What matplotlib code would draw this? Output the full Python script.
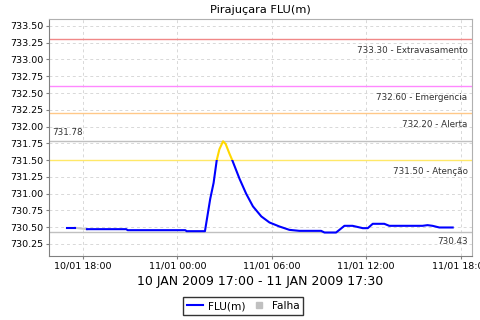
import matplotlib
matplotlib.use("Agg")
import matplotlib.pyplot as plt
import matplotlib.dates as mdates
from matplotlib.patches import Rectangle
from matplotlib.lines import Line2D
import numpy as np
import pandas as pd

# ---- data ----
times = ["2009-01-10 17:00", "2009-01-10 17:30",
         "2009-01-10 18:15", "2009-01-10 20:45", "2009-01-10 20:50", "2009-01-11 00:30",
         "2009-01-11 00:35", "2009-01-11 01:45", "2009-01-11 01:50", "2009-01-11 02:05",
         "2009-01-11 02:18", "2009-01-11 02:30", "2009-01-11 02:40", "2009-01-11 02:54",
         "2009-01-11 03:04", "2009-01-11 03:18", "2009-01-11 03:29", "2009-01-11 03:44",
         "2009-01-11 03:57", "2009-01-11 04:22", "2009-01-11 04:48", "2009-01-11 05:20",
         "2009-01-11 05:51", "2009-01-11 06:29", "2009-01-11 07:07", "2009-01-11 07:45",
         "2009-01-11 09:08", "2009-01-11 09:21", "2009-01-11 10:05", "2009-01-11 10:18",
         "2009-01-11 10:37", "2009-01-11 11:08", "2009-01-11 11:47", "2009-01-11 12:06",
         "2009-01-11 12:25", "2009-01-11 13:09", "2009-01-11 13:28", "2009-01-11 15:35",
         "2009-01-11 15:54", "2009-01-11 16:13", "2009-01-11 16:39", "2009-01-11 17:30"]
flu = [730.49, 730.49,
       730.47, 730.47, 730.455, 730.455,
       730.44, 730.44, 730.56, 730.92,
       731.16, 731.50, 731.66, 731.78,
       731.74, 731.60, 731.50, 731.35,
       731.22, 731.00, 730.81, 730.66,
       730.57, 730.51, 730.46, 730.445,
       730.445, 730.42, 730.42, 730.46,
       730.52, 730.52, 730.485, 730.485,
       730.55, 730.55, 730.52, 730.52,
       730.53, 730.52, 730.495, 730.495]
gap_times = ["2009-01-10 17:30", "2009-01-10 18:15"]   # "Falha" stretch
gap_vals = [730.49, 730.47]

levels = [733.30, 732.60, 732.20, 731.50]
level_names = ["Extravasamento", "Emergencia", "Alerta", "Atenção"]
level_colors = ["#f08888", "#ff88ff", "#ffc888", "#ffe868"]
vmax, vmin = 731.78, 730.43

t = pd.to_datetime(times)
tg = pd.to_datetime(gap_times)
first = 2  # blue series resumes after the failure

plt.rcParams["font.family"] = "DejaVu Sans"
fig = plt.figure(figsize=(4.8, 3.2), dpi=100)
ax = fig.add_axes([0.102, 0.2, 0.881, 0.741])

for v, c in zip(levels, level_colors):
    ax.axhline(v, color=c, lw=1, zorder=2)
for v in (vmax, vmin):
    ax.axhline(v, color="#c0c0c0", lw=1, zorder=2)

ax.plot(tg, gap_vals, color="#c8c8c8", lw=1.5, zorder=3)
# blue below the "Atenção" level, yellow above it
blue1, = ax.plot(t[:first], flu[:first], color="#0000ff", lw=1.5, zorder=4)
blue2, = ax.plot(t[first:], flu[first:], color="#0000ff", lw=1.5, zorder=4)
yel, = ax.plot(t[first:], flu[first:], color="#ffd800", lw=1.5, zorder=4)

xlo = pd.Timestamp("2009-01-10 15:50")
xhi = pd.Timestamp("2009-01-11 18:43")
ax.set_xlim(xlo, xhi)
ax.set_ylim(730.07, 733.605)

x0, x1 = mdates.date2num(xlo), mdates.date2num(xhi)
lo = Rectangle((x0, 700), x1 - x0, levels[3] - 700, transform=ax.transData)
hi = Rectangle((x0, levels[3]), x1 - x0, 10, transform=ax.transData)
blue2.set_clip_path(lo)
yel.set_clip_path(hi)

xr = 0.99
for v, n in zip(levels, level_names):
    ax.annotate(f"{v:.2f} - {n}", (xr, v), xycoords=("axes fraction", "data"),
                xytext=(0, -8), textcoords="offset points", ha="right", va="center",
                fontsize=6.3, color="#333333")
ax.annotate(f"{vmax:.2f}", (0.008, vmax), xycoords=("axes fraction", "data"),
            xytext=(0, 6), textcoords="offset points", ha="left", va="center",
            fontsize=6.3, color="#333333")
ax.annotate(f"{vmin:.2f}", (xr, vmin), xycoords=("axes fraction", "data"),
            xytext=(0, -7), textcoords="offset points", ha="right", va="center",
            fontsize=6.3, color="#333333")

ax.set_yticks(np.arange(730.25, 733.51, 0.25))
ax.yaxis.set_major_formatter(matplotlib.ticker.FormatStrFormatter("%.2f"))
ax.xaxis.set_major_locator(mdates.HourLocator(byhour=[0, 6, 12, 18]))
ax.xaxis.set_major_formatter(mdates.DateFormatter("%d/%m %H:%M"))
ax.tick_params(labelsize=6.8, length=2, color="#808080", pad=2)
ax.grid(True, color="#d8d8d8", ls=(0, (3, 3)), lw=0.7)
for s in ax.spines.values():
    s.set_color("#b0b0b0")
ax.spines["left"].set_color("#808080")
ax.spines["bottom"].set_color("#808080")

ax.set_title("Pirajuçara FLU(m)", fontsize=8.2, pad=4)
ax.set_xlabel("10 JAN 2009 17:00 - 11 JAN 2009 17:30", fontsize=9, labelpad=3)

handles = [Line2D([], [], color="#0000ff", lw=1.5),
           Line2D([], [], ls="none", marker="s", ms=5, color="#c0c0c0")]
fig.legend(handles, ["FLU(m)", "Falha"], loc="lower center", bbox_to_anchor=(0.506, 0.0),
           ncol=2, fontsize=7.6, frameon=True, fancybox=False, edgecolor="black",
           handlelength=1.6, handletextpad=0.4, columnspacing=0.5, borderpad=0.35)

fig.savefig("out.png", dpi=100)
